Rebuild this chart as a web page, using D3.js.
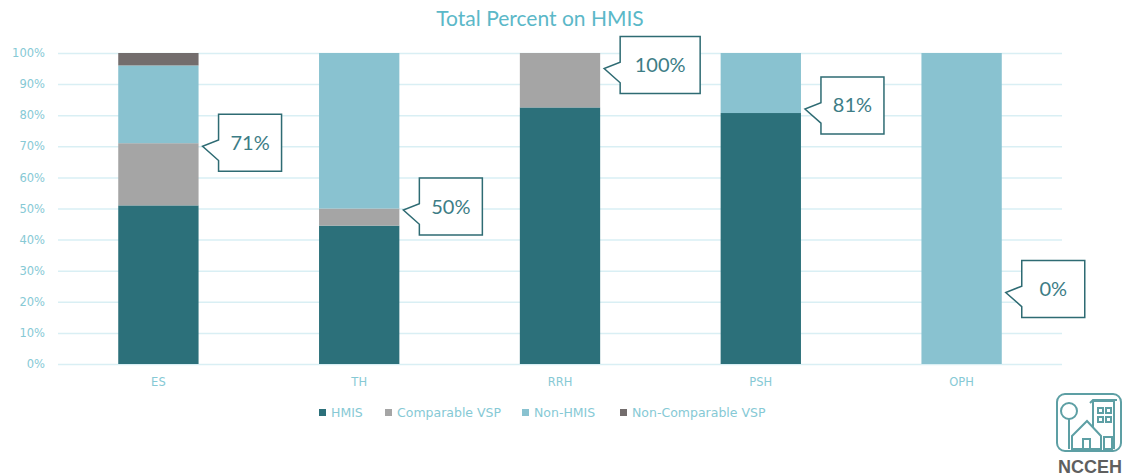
<!DOCTYPE html>
<html lang="en">
<head>
<meta charset="UTF-8">
<title>Total Percent on HMIS</title>
<script src="https://cdn.jsdelivr.net/npm/d3@7"></script>
<style>
    body { margin: 0; background: #fff; }
    .title { font: 21px Lato, 'Open Sans', sans-serif; fill: #5bb8c8; }
    .tick text { font: 11.5px 'DejaVu Sans', sans-serif; fill: #86c9d5; }
    .legend text { font: 12.5px 'DejaVu Sans', sans-serif; fill: #86c9d5; }
    .callout text { font: 20px Lato, 'Open Sans', sans-serif; fill: #3d7d86; }
</style>
</head>
<body>
<div id="chart"></div>
<script>
    // categories and series (shares of total, in percent)
    var categories = ["ES", "TH", "RRH", "PSH", "OPH"];
    var seriesNames = ["HMIS", "Comparable VSP", "Non-HMIS", "Non-Comparable VSP"];
    var hmis = [51, 44.5, 82.5, 80.7, 0];
    var comparableVsp = [20, 5.5, 17.5, 0, 0];
    var nonHmis = [25, 50, 0, 19.3, 100];
    var nonComparableVsp = [4, 0, 0, 0, 0];
    var yTicks = [0, 10, 20, 30, 40, 50, 60, 70, 80, 90, 100];

    // callout labels and the level (percent) their pointer sits at
    var calloutLabels = ["71%", "50%", "100%", "81%", "0%"];
    var calloutLevel = [70, 49.5, 95, 82, 23];

    var colors = ["#2c707a", "#a5a5a5", "#89c2d0", "#736d6d"];

    var width = 1124, height = 476;
    var margin = {top: 53, right: 62, bottom: 112, left: 58};

    var svg = d3.select("#chart").append("svg")
        .attr("width", width)
        .attr("height", height);

    var rows = categories.map(function(c, i) {
        return {cat: c, "HMIS": hmis[i], "Comparable VSP": comparableVsp[i],
                "Non-HMIS": nonHmis[i], "Non-Comparable VSP": nonComparableVsp[i]};
    });
    var stacked = d3.stack().keys(seriesNames)(rows);

    var x = d3.scaleBand()
        .domain(categories)
        .range([margin.left, width - margin.right])
        .paddingInner(0.6)
        .paddingOuter(0.3);

    var y = d3.scaleLinear()
        .domain([0, 100])
        .range([height - margin.bottom, margin.top]);

    var color = d3.scaleOrdinal().domain(seriesNames).range(colors);

    // title
    svg.append("text")
        .attr("class", "title")
        .attr("x", 540)
        .attr("y", 26)
        .attr("text-anchor", "middle")
        .text("Total Percent on HMIS");

    // gridlines + y labels
    var yAxis = svg.append("g")
        .attr("transform", "translate(" + margin.left + ",0)")
        .call(d3.axisLeft(y).tickValues(yTicks)
            .tickFormat(function(d) { return d + "%"; })
            .tickSize(-(width - margin.left - margin.right))
            .tickPadding(13));
    yAxis.select(".domain").remove();
    yAxis.selectAll(".tick line").attr("stroke", "#d9eff4").attr("stroke-width", 1.5);

    // bars
    svg.append("g").selectAll("g")
        .data(stacked)
        .enter().append("g")
        .attr("fill", function(d) { return color(d.key); })
        .selectAll("rect")
        .data(function(d) { return d; })
        .enter().append("rect")
        .attr("x", function(d) { return x(d.data.cat); })
        .attr("y", function(d) { return y(d[1]); })
        .attr("width", x.bandwidth())
        .attr("height", function(d) { return y(d[0]) - y(d[1]); });

    // x labels
    var xAxis = svg.append("g")
        .attr("transform", "translate(0," + y(0) + ")")
        .call(d3.axisBottom(x).tickSize(0).tickPadding(14));
    xAxis.select(".domain").remove();

    // callouts (wedge rectangles)
    function calloutPath(tx, ty, bx, by, w, h) {
        var n1 = by + h * 0.45, n2 = by + h * 0.81;
        return "M" + bx + "," + by + "H" + (bx + w) + "V" + (by + h) + "H" + bx +
            "V" + n2 + "L" + tx + "," + ty + "L" + bx + "," + n1 + "Z";
    }
    var callouts = svg.append("g").attr("class", "callout");
    calloutLabels.forEach(function(lab, i) {
        var tx = x(categories[i]) + x.bandwidth() + 4;
        var ty = y(calloutLevel[i]);
        var bw = lab.length > 3 ? 80 : 63, bh = 57;
        var bx = tx + 16, by = ty - 32;
        callouts.append("path")
            .attr("d", calloutPath(tx, ty, bx, by, bw, bh))
            .attr("fill", "#fff")
            .attr("stroke", "#2e6b73")
            .attr("stroke-width", 1.5);
        callouts.append("text")
            .attr("x", bx + bw / 2)
            .attr("y", by + bh / 2 + 7)
            .attr("text-anchor", "middle")
            .text(lab);
    });

    // legend
    var legendX = [319, 385, 522, 620];
    var legend = svg.append("g").attr("class", "legend");
    seriesNames.forEach(function(s, i) {
        legend.append("rect")
            .attr("x", legendX[i]).attr("y", 409)
            .attr("width", 7).attr("height", 7)
            .attr("fill", color(s));
        legend.append("text")
            .attr("x", legendX[i] + 12).attr("y", 417)
            .text(s);
    });

    // NCCEH logo (approximate)
    var logo = svg.append("g").attr("fill", "none").attr("stroke", "#5d9fa4").attr("stroke-width", 2);
    logo.append("rect").attr("x", 1057).attr("y", 394).attr("width", 64).attr("height", 57).attr("rx", 8);
    logo.append("circle").attr("cx", 1069).attr("cy", 411).attr("r", 8);
    logo.append("line").attr("x1", 1069).attr("y1", 419).attr("x2", 1069).attr("y2", 449);
    logo.append("path").attr("d", "M1072,436 L1087,421 L1101,436 V449 H1072 Z");
    logo.append("rect").attr("x", 1083).attr("y", 439).attr("width", 7).attr("height", 10);
    logo.append("path").attr("d", "M1093,428 V401 H1114 V449");
    logo.append("path").attr("d", "M1090,403 L1093,400 H1117");
    [[1098, 408], [1106, 408], [1098, 417], [1106, 417]].forEach(function(p) {
        logo.append("rect").attr("x", p[0]).attr("y", p[1]).attr("width", 5).attr("height", 5);
    });
    logo.append("rect").attr("x", 1104).attr("y", 437).attr("width", 8).attr("height", 12);
    svg.append("text")
        .attr("x", 1090).attr("y", 473)
        .attr("text-anchor", "middle")
        .style("font", "bold 18px 'Liberation Sans', Arial, sans-serif")
        .attr("fill", "#5f5f5f")
        .text("NCCEH");
</script>
</body>
</html>
